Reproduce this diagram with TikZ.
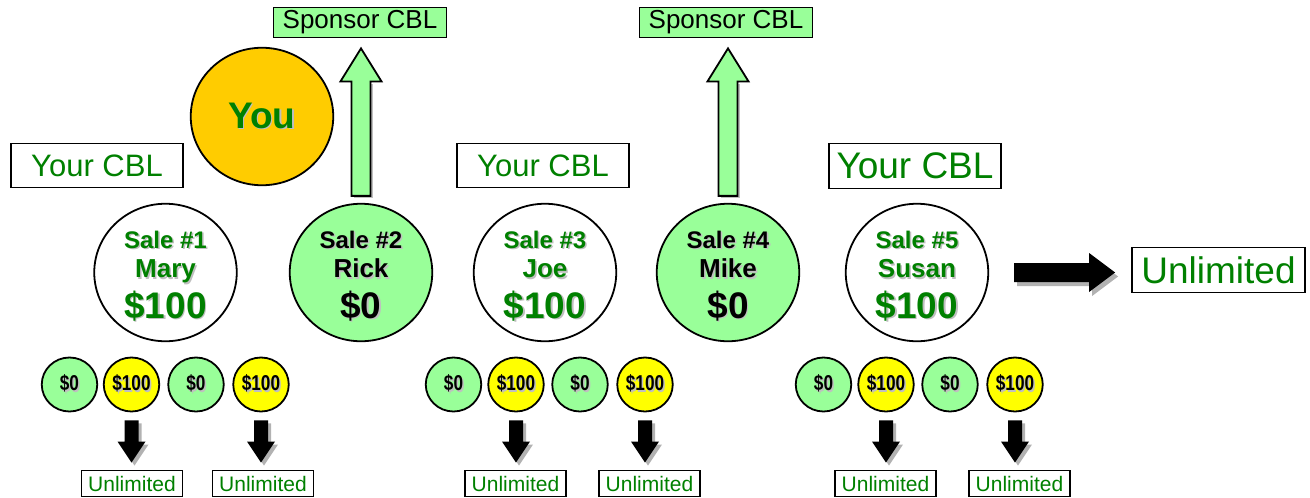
\documentclass[tikz,border=0pt]{standalone}
\usepackage{fontspec}
\setmainfont{Liberation Sans}
\newfontfamily\coinfont[FakeStretch=0.8]{Liberation Sans}
\usetikzlibrary{shapes.geometric,calc}
\definecolor{tgreen}{HTML}{008000}
\definecolor{lgreen}{HTML}{99FF99}
\definecolor{orng}{HTML}{FFCC00}
\definecolor{yel}{HTML}{FFFF00}
\newcommand\fsz[1]{\fontsize{#1}{#1}\selectfont}
\newcommand\shd[1]{\rlap{\kern1.5pt\raisebox{-1.5pt}{\textcolor{black!25}{#1}}}#1}
\tikzset{
  boxbase/.style={draw, line width=1.8pt, inner sep=0pt},
  ycbl/.style={boxbase, minimum width=172pt, minimum height=44pt, text=tgreen, font=\fsz{31}},
  sponsor/.style={boxbase, fill=lgreen, minimum width=173pt, minimum height=30pt, font=\fsz{26}},
  unl/.style={boxbase, minimum width=101pt, minimum height=26pt, text=tgreen, font=\fsz{21}},
  bigunl/.style={boxbase, minimum width=173pt, minimum height=45pt, text=tgreen, font=\fsz{37}},
  bigc/.style={ellipse, draw, line width=1.8pt, minimum width=142.5pt, minimum height=137.5pt, inner sep=0pt},
  coin/.style={ellipse, draw, line width=1.8pt, minimum width=55.5pt, minimum height=54pt, inner sep=0pt, font=\coinfont\bfseries\fsz{21.5}},
  ltxt/.style={anchor=base, inner sep=0pt},
  greenarrow/.style={draw, line width=1.8pt, fill=lgreen, line join=miter},
  blackarrow/.style={fill=black},
  arrowshadow/.style={fill=black!30},
}
% sale circle: name, x, fill, text colour, line1, line2, line3
\newcommand\salenode[7]{%
  \node[bigc, fill=#3] (#1) at (#2,272.5) {};
  \node[ltxt, text=#4, font=\bfseries\fsz{24}] (#1a) at ($(#1.center)+(0,-24.5)$) {\shd{#5}};
  \node[ltxt, text=#4, font=\bfseries\fsz{26}] (#1b) at ($(#1.center)+(0,5)$) {\shd{#6}};
  \node[ltxt, text=#4, font=\bfseries\fsz{37}] (#1c) at ($(#1.center)+(0,45.5)$) {\shd{#7}};
}
% green block arrow up from node #1 to node #2
\newcommand\uparr[2]{%
  \path[fill=black!25] let \p1=($(#1.north)+(0,-7)$), \p2=($(#2.south)+(0,10)$) in
    (\x1-7pt,\y1-2.5pt) -- (\x1-7pt,\y2-35.5pt) -- (\x1+12pt,\y2-35.5pt) -- (\x1+12pt,\y1-2.5pt) -- cycle;
  \draw[greenarrow] let \p1=($(#1.north)+(0,-7)$), \p2=($(#2.south)+(0,10)$) in
    (\x1-9.5pt,\y1) -- (\x1-9.5pt,\y2-33pt) -- (\x1-20.5pt,\y2-33pt) -- (\x1,\y2)
    -- (\x1+20.5pt,\y2-33pt) -- (\x1+9.5pt,\y2-33pt) -- (\x1+9.5pt,\y1) -- cycle;
}
% black block arrow down from node #1 to node #2
\newcommand\downarr[2]{%
  \path[arrowshadow] let \p1=($(#1.south)+(0,8)$), \p2=($(#2.north)+(0,-7)$) in
    ([shift={(3pt,-3pt)}]\x1-7pt,\y1) -- ([shift={(3pt,-3pt)}]\x1-7pt,\y2+21pt) -- ([shift={(3pt,-3pt)}]\x1-14pt,\y2+21pt) -- ([shift={(3pt,-3pt)}]\x1,\y2)
    -- ([shift={(3pt,-3pt)}]\x1+14pt,\y2+21pt) -- ([shift={(3pt,-3pt)}]\x1+7pt,\y2+21pt) -- ([shift={(3pt,-3pt)}]\x1+7pt,\y1) -- cycle;
  \path[blackarrow] let \p1=($(#1.south)+(0,8)$), \p2=($(#2.north)+(0,-7)$) in
    (\x1-7pt,\y1) -- (\x1-7pt,\y2+21pt) -- (\x1-14pt,\y2+21pt) -- (\x1,\y2)
    -- (\x1+14pt,\y2+21pt) -- (\x1+7pt,\y2+21pt) -- (\x1+7pt,\y1) -- cycle;
}
\begin{document}
\begin{tikzpicture}[x=1pt,y=-1pt]
\useasboundingbox (0,0) rectangle (1310,498);

% top boxes
\node[sponsor] (sp1) at (360,22.5) {Sponsor CBL};
\node[sponsor] (sp2) at (726,22.5) {Sponsor CBL};

% you
\node[ellipse, draw, line width=1.8pt, fill=orng, minimum width=142.5pt, minimum height=137.5pt, inner sep=0pt,
      text=tgreen, font=\bfseries\fsz{37}] (you) at (262,116.5) {\shd{You}};

% Your CBL boxes
\node[ycbl] (yc1) at (97,165.5) {Your CBL};
\node[ycbl] (yc2) at (543,165.5) {Your CBL};
\node[ycbl, font=\fsz{37}, minimum height=45pt] (yc3) at (915,166) {Your CBL};

% sale circles
\salenode{s1}{165.5}{white}{tgreen}{Sale \#1}{Mary}{\$100}
\salenode{s2}{361}{lgreen}{black}{Sale \#2}{Rick}{\$0}
\salenode{s3}{545}{white}{tgreen}{Sale \#3}{Joe}{\$100}
\salenode{s4}{728}{lgreen}{black}{Sale \#4}{Mike}{\$0}
\salenode{s5}{917}{white}{tgreen}{Sale \#5}{Susan}{\$100}

% up arrows
\uparr{s2}{sp1}
\uparr{s4}{sp2}

% big unlimited and right arrow
\node[bigunl] (bu) at (1218.5,270) {Unlimited};
\path[arrowshadow] let \p1=($(s5.east)+(25,0)$), \p2=($(bu.west)+(-16,0)$) in
  ([shift={(3pt,-4pt)}]\x1,\y1+9.5pt) -- ([shift={(3pt,-4pt)}]\x2-26pt,\y1+9.5pt) -- ([shift={(3pt,-4pt)}]\x2-26pt,\y1+19.5pt) -- ([shift={(3pt,-4pt)}]\x2,\y1)
  -- ([shift={(3pt,-4pt)}]\x2-26pt,\y1-19.5pt) -- ([shift={(3pt,-4pt)}]\x2-26pt,\y1-9.5pt) -- ([shift={(3pt,-4pt)}]\x1,\y1-9.5pt) -- cycle;
\path[blackarrow] let \p1=($(s5.east)+(25,0)$), \p2=($(bu.west)+(-16,0)$) in
  (\x1,\y1+9.5pt) -- (\x2-26pt,\y1+9.5pt) -- (\x2-26pt,\y1+19.5pt) -- (\x2,\y1)
  -- (\x2-26pt,\y1-19.5pt) -- (\x2-26pt,\y1-9.5pt) -- (\x1,\y1-9.5pt) -- cycle;

% coins
\node[coin, fill=lgreen] (c11) at (69.5,384.5) {\shd{\$0}};
\node[coin, fill=yel]    (c12) at (131.5,384.5) {\shd{\$100}};
\node[coin, fill=lgreen] (c13) at (196,384.5) {\shd{\$0}};
\node[coin, fill=yel]    (c14) at (261,384.5) {\shd{\$100}};
\node[coin, fill=lgreen] (c21) at (453.5,384.5) {\shd{\$0}};
\node[coin, fill=yel]    (c22) at (516,384.5) {\shd{\$100}};
\node[coin, fill=lgreen] (c23) at (580,384.5) {\shd{\$0}};
\node[coin, fill=yel]    (c24) at (645,384.5) {\shd{\$100}};
\node[coin, fill=lgreen] (c31) at (823.5,384.5) {\shd{\$0}};
\node[coin, fill=yel]    (c32) at (886,384.5) {\shd{\$100}};
\node[coin, fill=lgreen] (c33) at (950,384.5) {\shd{\$0}};
\node[coin, fill=yel]    (c34) at (1015,384.5) {\shd{\$100}};

% small unlimited boxes
\node[unl] (u12) at (132,483.5) {Unlimited};
\node[unl] (u14) at (263,483.5) {Unlimited};
\node[unl] (u22) at (515.5,483.5) {Unlimited};
\node[unl] (u24) at (649.5,483.5) {Unlimited};
\node[unl] (u32) at (885.5,483.5) {Unlimited};
\node[unl] (u34) at (1019.5,483.5) {Unlimited};

% down arrows
\downarr{c12}{u12}
\downarr{c14}{u14}
\downarr{c22}{u22}
\downarr{c24}{u24}
\downarr{c32}{u32}
\downarr{c34}{u34}
\end{tikzpicture}
\end{document}
